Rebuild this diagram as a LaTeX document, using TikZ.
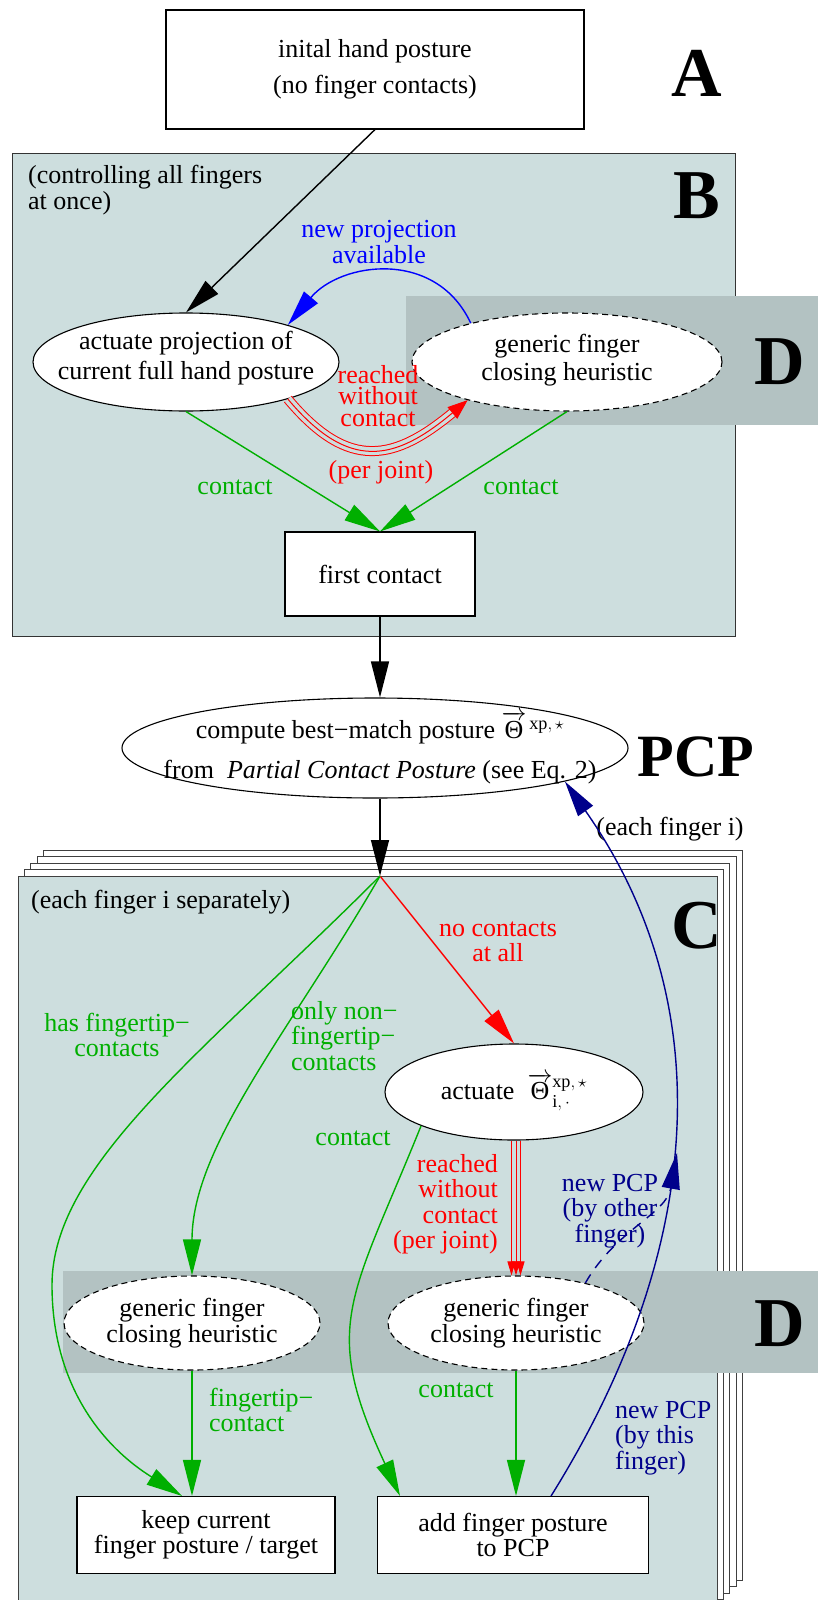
\documentclass[tikz,border=0pt]{standalone}
\usepackage{amsmath}
\usepackage{fontspec}
\setmainfont{Liberation Serif}
\usepackage{tikz}
\usetikzlibrary{arrows.meta}
\usetikzlibrary{shapes.geometric}
\definecolor{cfill}{RGB}{205,222,222}
\definecolor{dfill}{RGB}{179,194,194}
\definecolor{gcol}{RGB}{0,175,0}
\definecolor{ncol}{RGB}{0,0,139}
\tikzstyle{box}=[rectangle, draw=black, fill=white, line width=1.1pt, align=center, inner sep=0pt]
\tikzstyle{oval}=[ellipse, draw=black, fill=white, line width=1.1pt, inner sep=0pt]
\tikzstyle{heur}=[oval, dash pattern=on 6pt off 4pt]
\tikzstyle{lbl}=[align=center, inner sep=0pt]
\tikzstyle{bigl}=[inner sep=0pt, font=\fontsize{70}{70}\bfseries\selectfont]
\tikzstyle{bigp}=[inner sep=0pt, font=\fontsize{60}{60}\bfseries\selectfont]
\tikzstyle{arr}=[line width=1.4pt, -{Triangle[length=36pt, width=18pt]}]
\tikzstyle{garr}=[arr, gcol]
\tikzstyle{rarr}=[arr, red]
\tikzstyle{barr}=[arr, blue]
\tikzstyle{narr}=[arr, ncol]
\tikzstyle{tri}=[red, line width=1pt, -{Triangle[length=14pt, width=8pt]}]

\begin{document}
\begin{tikzpicture}[x=1pt, y=1pt, font=\fontsize{26}{25.5}\selectfont]
    \useasboundingbox (0,0) rectangle (818,-1600);
    % frames and bands
    \filldraw[fill=cfill, draw=black!80, line width=1pt] (12,-153) rectangle (735,-636);
    \fill[dfill] (406,-296) rectangle (818,-425);
    \foreach \k in {4,3,2,1}
      \filldraw[fill=white, draw=black!75, line width=1pt]
        (18+6.4*\k,-876+6.4*\k) rectangle (717+6.4*\k,-1606+6.4*\k);
    \filldraw[fill=cfill, draw=black!75, line width=1pt] (18,-876) rectangle (717,-1606);
    \fill[dfill] (63,-1271) rectangle (818,-1373);

    % nodes
    \node[box, minimum width=418pt, minimum height=119pt] (init) at (375,-69.5)
      {inital hand posture\\[11pt](no finger contacts)};
    \node[bigl] (lA) at (697,-73) {A};
    \node[bigl] (lB) at (697,-196) {B};
    \node[bigl] (lD1) at (780,-362) {D};
    \node[lbl, align=left, anchor=west] (noteB) at (28,-190)
      {(controlling all fingers\\at once)};
    \node[oval, minimum width=306pt, minimum height=98pt,
      label={[lbl, yshift=4pt]center:{actuate projection of\\[4pt]current full hand posture}}] (actB) at (186,-362) {};
    \node[heur, minimum width=310pt, minimum height=98pt,
      label={[lbl, yshift=2pt]center:{generic finger\\[2pt]closing heuristic}}] (genB) at (567,-362) {};
    \node[box, minimum width=190pt, minimum height=84pt] (first) at (380,-574) {first contact};
    \node[oval, minimum width=506pt, minimum height=100pt,
      label={[lbl, xshift=5pt]center:{compute best−match posture $\overrightarrow{\text{Θ}}^{\,\text{xp},\,\star}$\\[15pt]from~~\textit{Partial Contact Posture} (see Eq. 2)}}] (pcp) at (375,-748) {};
    \node[bigp] (lPCP) at (696,-757) {PCP};
    \node[lbl] (eachf) at (670,-829) {(each finger i)};
    \coordinate (ctop) at (380,-876);
    \node[lbl, anchor=west] (noteC) at (31,-902) {(each finger i separately)};
    \node[bigl] (lC) at (697,-926) {C};
    \node[oval, minimum width=258pt, minimum height=96pt,
      label={[lbl]center:{actuate~~$\overrightarrow{\text{Θ}}^{\text{xp},\,\star}_{\text{i},\,\cdot}$}}] (actC) at (514,-1092) {};
    \node[heur, minimum width=256pt, minimum height=94pt,
      label={[lbl]center:{generic finger\\closing heuristic}}] (genL) at (192,-1323) {};
    \node[heur, minimum width=256pt, minimum height=94pt,
      label={[lbl]center:{generic finger\\closing heuristic}}] (genR) at (516,-1323) {};
    \node[bigl] (lD2) at (780,-1324) {D};
    \node[box, minimum width=258pt, minimum height=77pt] (keep) at (206,-1535)
      {keep current\\finger posture / target};
    \node[box, minimum width=271pt, minimum height=77pt] (add) at (513,-1535)
      {add finger posture\\to PCP};
    \coordinate (gbend) at (52,-1285);
    \coordinate (jn) at (677,-1153);

    % upper part
    \draw[arr] (init.south) -- (actB.north);
    \draw[barr] (genB.158) to[out=115, in=50, looseness=1.15] (actB.20);
    \draw[red, line width=10pt, shorten >=16pt] (actB.-20) to[out=-50, in=-140, looseness=1.35] (genB.201);
    \draw[cfill, line width=8pt, shorten >=16pt] (actB.-20) to[out=-50, in=-140, looseness=1.35] (genB.201);
    \draw[red, line width=1pt, -{Triangle[length=20pt, width=15pt]}] (actB.-20) to[out=-50, in=-140, looseness=1.35] (genB.201);
    \foreach \a in {actB, genB}
      \draw[garr] (\a.south) -- (first.north);
    \draw[arr] (first.south) -- (first.south |- pcp.north);
    \draw[arr] (first.south |- pcp.south) -- (ctop);

    % lower part
    \draw[rarr] (ctop) -- (actC.north);
    \draw[garr] (ctop) to[out=-135, in=90, out distance=250pt, in distance=120pt] (gbend)
      to[out=-90, in=148] ([xshift=-24pt]keep.north);
    \draw[garr] (ctop) to[out=-120, in=90, out distance=175pt, in distance=130pt] (genL.north);
    \draw[garr] (actC.200) to[out=-112, in=115, looseness=1.3] ([xshift=-113pt]add.north);
    \foreach \dx in {-4.5,0,4.5}
      \draw[tri] ([xshift=\dx pt]genR.north |- actC.south) -- ([xshift=\dx pt]genR.north);
    \draw[garr] (genL.south) -- (genL.south |- keep.north);
    \draw[garr] (genR.south) -- (genR.south |- add.north);
    \draw[narr] ([xshift=-98pt]add.north east) to[out=58, in=-55] (pcp.-10);
    \draw[narr, dash pattern=on 10pt off 8pt] (genR.30) to[out=60, in=-100] (jn);

    % edge labels
    \node[lbl, text=blue] (tproj) at (379,-242) {new projection\\available};
    \node[lbl, text=red] (treachB) at (378,-396) {reached\\[-4pt]without\\[-4pt]contact};
    \node[lbl, text=red] (tjointB) at (381,-472) {(per joint)};
    \node[lbl, text=gcol] (tcl) at (235,-487) {contact};
    \node[lbl, text=gcol] (tcr) at (521,-487) {contact};
    \node[lbl, text=red] (tnone) at (498,-942) {no contacts\\at all};
    \node[lbl, text=gcol] (thas) at (117,-1035) {has fingertip−\\contacts};
    \node[lbl, text=gcol, align=left, anchor=west] (tonly) at (291,-1036) {only non−\\fingertip−\\contacts};
    \node[lbl, text=gcol] (tcc) at (353,-1138) {contact};
    \node[lbl, text=red, align=right, anchor=east] (treachC) at (498,-1204) {reached\\without\\contact\\(per joint)};
    \node[lbl, text=ncol] (tother) at (610,-1211) {new PCP\\(by other\\finger)};
    \node[lbl, text=gcol, align=left, anchor=west] (ttip) at (209,-1410) {fingertip−\\contact};
    \node[lbl, text=gcol] (tcr2) at (456,-1390) {contact};
    \node[lbl, text=ncol, align=left, anchor=west] (tthis) at (615,-1438) {new PCP\\(by this\\finger)};
\end{tikzpicture}
\end{document}
